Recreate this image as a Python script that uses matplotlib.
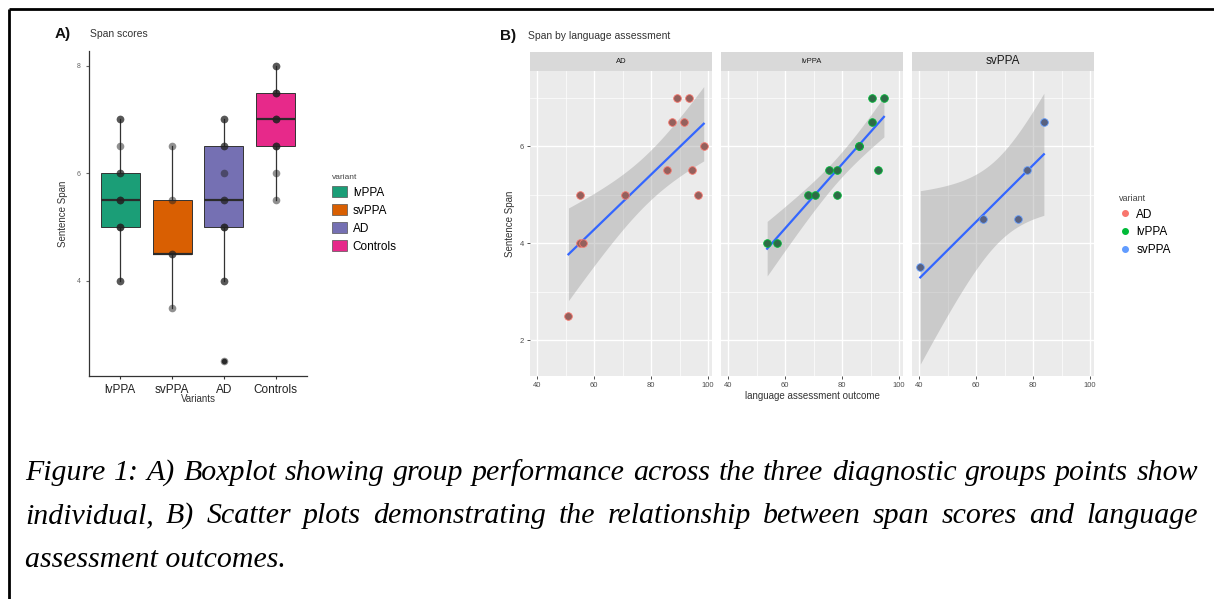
import numpy as np
import matplotlib
matplotlib.use("Agg")
import matplotlib.pyplot as plt
from matplotlib.patches import Patch
from matplotlib.lines import Line2D

plt.rcParams['font.family'] = ['Liberation Sans', 'DejaVu Sans']

W, H = 1214, 599

# ---- data ----
# panel B: language assessment outcome vs sentence span, per variant
lang_ad = [51, 55, 55, 56, 71, 85.5, 87.5, 89, 91.5, 93.5, 94.5, 96.5, 98.5]
span_ad = [2.5, 5, 4, 4, 5, 5.5, 6.5, 7, 6.5, 7, 5.5, 5, 6]
lang_lvppa = [53.7, 57.3, 68.2, 70.5, 78.3, 75.4, 78.3, 85.9, 85.9, 90.6, 90.6, 94.7, 92.8]
span_lvppa = [4, 4, 5, 5, 5, 5.5, 5.5, 6, 6, 6.5, 7, 7, 5.5]
lang_svppa = [40.4, 62.4, 74.7, 78.0, 83.8]
span_svppa = [3.5, 4.5, 4.5, 5.5, 6.5]
# controls have span scores only
span_controls = [5.5, 6, 6.5, 6.5, 6.5, 7, 7, 7, 7.5, 7.5, 7.5, 8, 8]

variants = ["lvPPA", "svPPA", "AD", "Controls"]
box_colors = ["#1B9E77", "#D95F02", "#7570B3", "#E7298A"]
box_data = [span_lvppa, span_svppa, span_ad, span_controls]

facets = ["AD", "lvPPA", "svPPA"]
facet_x = [lang_ad, lang_lvppa, lang_svppa]
facet_y = [span_ad, span_lvppa, span_svppa]
hue_colors = ["#F8766D", "#00BA38", "#619CFF"]
dot_colors = ["#94605C", "#2E6B47", "#58617F"]

# t quantiles (97.5%) for the lm confidence band
t975 = {3: 3.182, 11: 2.201}

fig = plt.figure(figsize=(W / 100, H / 100), dpi=100)
fig.patch.set_facecolor("white")


def rect(left, top, right, bottom):
    return [left / W, 1 - bottom / H, (right - left) / W, (bottom - top) / H]


# overlay in pixel coordinates for frame, titles and caption
ov = fig.add_axes([0, 0, 1, 1], zorder=-1)
ov.set_xlim(0, W)
ov.set_ylim(H, 0)
ov.axis("off")
ov.plot([9, 9], [9, H], color="black", lw=2, solid_capstyle="butt")
ov.plot([9, W], [9, 9], color="black", lw=2, solid_capstyle="butt")

# ---------------- panel A ----------------
axA = fig.add_axes(rect(89, 51, 307, 376))
bp = axA.boxplot(box_data, positions=range(4), widths=0.75, patch_artist=True,
                 showcaps=False,
                 medianprops=dict(color="#2b2b2b", lw=1.6),
                 whiskerprops=dict(color="#333333", lw=0.9),
                 boxprops=dict(edgecolor="#333333", lw=0.7),
                 flierprops=dict(marker="o", markerfacecolor="#333333",
                                 markeredgecolor="none", markersize=4))
for patch, c in zip(bp["boxes"], box_colors):
    patch.set_facecolor(c)
for i, vals in enumerate(box_data):
    axA.plot([i] * len(vals), vals, "o", color="#222222", alpha=0.5,
             markersize=5.5, markeredgewidth=0, zorder=4)

axA.set_xlim(-0.6, 3.6)
axA.set_ylim(2.225, 8.275)
axA.set_yticks([4, 6, 8])
axA.set_xticks(range(4))
axA.set_xticklabels(variants, fontsize=8.5, color="#222222")
axA.tick_params(axis="y", labelsize=5, colors="#666666", length=2.5)
axA.tick_params(axis="x", length=2.5, color="#333333", pad=3)
for s in ["top", "right"]:
    axA.spines[s].set_visible(False)
for s in ["left", "bottom"]:
    axA.spines[s].set_color("#333333")
    axA.spines[s].set_linewidth(0.9)
axA.set_ylabel("Sentence Span", fontsize=7, color="#333333", labelpad=6)
axA.set_xlabel("Variants", fontsize=7, color="#333333", labelpad=-1.5)

ov.text(55, 34, "A)", fontsize=11, fontweight="bold", va="center", color="#111111")
ov.text(90, 34, "Span scores", fontsize=7.5, va="center", color="#333333")

legA = fig.legend(handles=[Patch(facecolor=c, edgecolor="#555555", lw=0.5, label=v)
                           for v, c in zip(variants, box_colors)],
                  loc="upper left", bbox_to_anchor=(321 / W, 1 - 163 / H),
                  frameon=False, fontsize=8.5, title="variant", title_fontsize=6,
                  alignment="left", handlelength=1.3, handleheight=1.1,
                  labelspacing=0.45, handletextpad=0.5)
legA.get_title().set_color("#444444")

# ---------------- panel B ----------------
fits = []
for xs, ys in zip(facet_x, facet_y):
    x = np.array(xs)
    y = np.array(ys)
    n = len(x)
    b, a = np.polyfit(x, y, 1)
    xg = np.linspace(x.min(), x.max(), 80)
    yg = a + b * xg
    resid = y - (a + b * x)
    s = np.sqrt(np.sum(resid ** 2) / (n - 2))
    se = s * np.sqrt(1 / n + (xg - x.mean()) ** 2 / np.sum((x - x.mean()) ** 2))
    half = t975[n - 2] * se
    fits.append((xg, yg, yg - half, yg + half))

all_x = np.concatenate([np.array(v) for v in facet_x])
xpad = (all_x.max() - all_x.min()) * 0.05

lefts = [530, 721, 912]
for k, name in enumerate(facets):
    L = lefts[k]
    ax = fig.add_axes(rect(L, 71, L + 182, 376))
    ax.set_facecolor("#EBEBEB")
    for s in ax.spines.values():
        s.set_visible(False)
    ax.set_xlim(all_x.min() - xpad, all_x.max() + xpad)
    ax.set_ylim(1.26, 7.55)
    ax.set_xticks([40, 60, 80, 100])
    ax.set_xticks([50, 70, 90], minor=True)
    ax.set_yticks([2, 4, 6])
    ax.set_yticks([3, 5, 7], minor=True)
    ax.grid(True, which="major", color="white", lw=1.0)
    ax.grid(True, which="minor", color="white", lw=0.5)
    ax.set_axisbelow(True)
    ax.tick_params(which="minor", length=0)
    ax.tick_params(which="major", labelsize=5.5, labelcolor="#4D4D4D",
                   color="#333333", length=2.5, width=0.6, pad=2)
    if k > 0:
        ax.tick_params(axis="y", which="both", left=False, labelleft=False)
    xg, yg, ylo, yhi = fits[k]
    ax.fill_between(xg, ylo, yhi, color="#999999", alpha=0.4, lw=0, zorder=2)
    ax.plot(xg, yg, color="#3366FF", lw=1.6, zorder=3)
    ax.plot(facet_x[k], facet_y[k], "o", color=dot_colors[k], markersize=5.5,
            markeredgecolor=hue_colors[k], markeredgewidth=0.6, zorder=4)
    if k == 0:
        ax.set_ylabel("Sentence Span", fontsize=7, color="#333333", labelpad=3)
    if k == 1:
        ax.set_xlabel("language assessment outcome", fontsize=7, color="#333333",
                      labelpad=1)

    st = fig.add_axes(rect(L, 52, L + 182, 71))
    st.set_facecolor("#D9D9D9")
    st.set_xticks([])
    st.set_yticks([])
    for s in st.spines.values():
        s.set_visible(False)
    st.text(0.5, 0.5, name, transform=st.transAxes, ha="center", va="center",
            fontsize=8.5 if name == "svPPA" else 5.5, color="#1A1A1A")

ov.text(500, 36, "B)", fontsize=11, fontweight="bold", va="center", color="#111111")
ov.text(528, 36, "Span by language assessment", fontsize=7.5, va="center",
        color="#333333")

legB = fig.legend(handles=[Line2D([], [], marker="o", ls="", color=c, markersize=4,
                                  label=v) for v, c in zip(facets, hue_colors)],
                  loc="upper left", bbox_to_anchor=(1108 / W, 1 - 183 / H),
                  frameon=False, fontsize=8.5, title="variant", title_fontsize=6.5,
                  alignment="left", handlelength=1.0, labelspacing=0.5,
                  handletextpad=0.5)
legB.get_title().set_color("#444444")

# ---------------- caption ----------------
caption = [
    "Figure 1: A) Boxplot showing group performance across the three diagnostic groups points show",
    "individual, B) Scatter plots demonstrating the relationship between span scores and language",
    "assessment outcomes.",
]
cap_kw = dict(fontsize=21.5, family="Liberation Serif", style="italic", va="baseline",
              color="black")
renderer = fig.canvas.get_renderer()
x0, x1 = 25, 1198
for j, (line, yb) in enumerate(zip(caption, [480, 523, 567])):
    if j == len(caption) - 1:
        ov.text(x0, yb, line, **cap_kw)
        continue
    words = line.split(" ")
    texts = [ov.text(0, yb, w, **cap_kw) for w in words]
    widths = [t.get_window_extent(renderer).width for t in texts]
    gap = (x1 - x0 - sum(widths)) / (len(words) - 1)
    x = x0
    for t, w in zip(texts, widths):
        t.set_x(x)
        x += w + gap

fig.savefig("out.png", dpi=100)
